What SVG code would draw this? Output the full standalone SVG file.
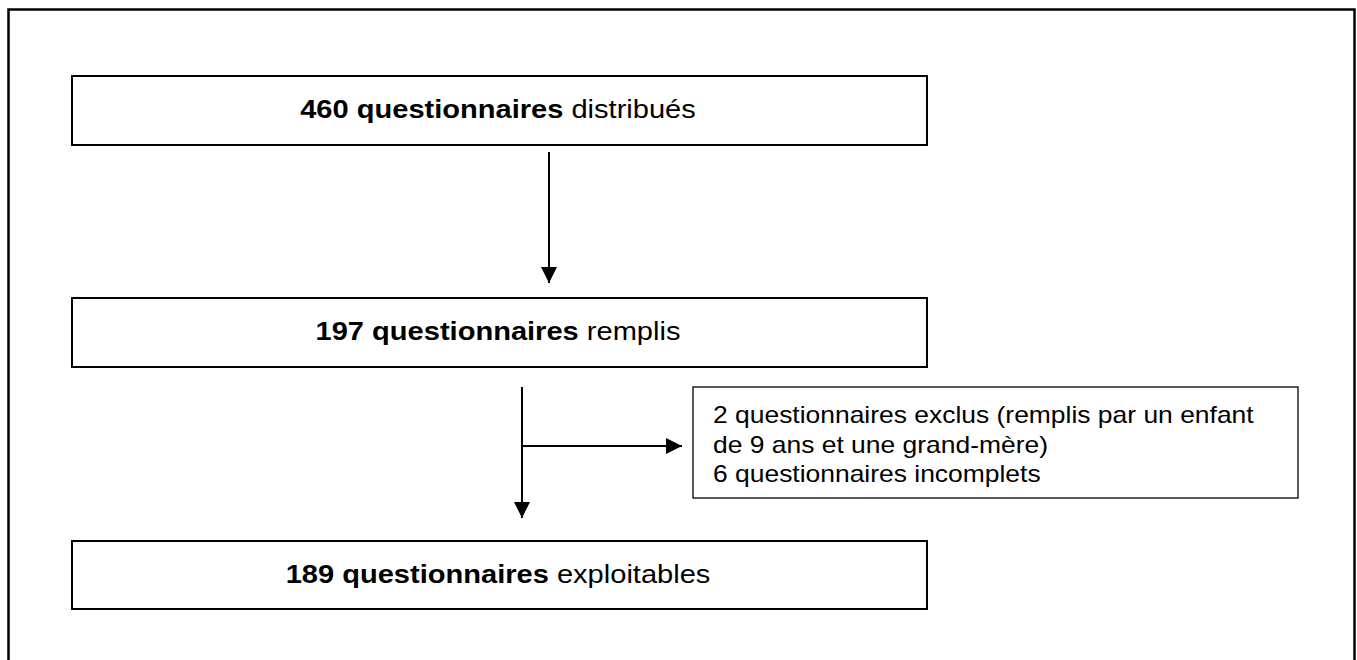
<svg xmlns="http://www.w3.org/2000/svg" width="1357" height="660" viewBox="0 0 1357 660">
<style>
.frame{fill:none;stroke:#000;stroke-width:2.5}
.box{fill:#fff;stroke:#000;stroke-width:2}
.thin{fill:#fff;stroke:#000;stroke-width:1.3}
.conn{stroke:#000;stroke-width:2;fill:none}
.t{font-family:"Liberation Sans",Arial,sans-serif;font-size:25.5px;fill:#000}
.s{font-family:"Liberation Sans",Arial,sans-serif;font-size:23px;fill:#000}
.b{font-weight:bold}
</style>
<defs>
<marker id="ah" viewBox="0 0 16 16" refX="16" refY="8" markerWidth="16" markerHeight="16" markerUnits="userSpaceOnUse" orient="auto">
<path d="M0,0 L16,8 L0,16 Z" fill="#000"/>
</marker>
</defs>
<rect width="1357" height="660" fill="#fff"/>
<path class="frame" d="M8.5,672 V9.5 H1354.5 V672"/>
<g id="n1">
<rect class="box" x="72" y="76" width="855" height="69"/>
<text class="t" transform="translate(498,118) scale(1.14,1)" text-anchor="middle"><tspan class="b">460 questionnaires</tspan> distribués</text>
</g>
<g id="n2">
<rect class="box" x="72" y="298" width="855" height="69"/>
<text class="t" transform="translate(498,340) scale(1.14,1)" text-anchor="middle"><tspan class="b">197 questionnaires</tspan> remplis</text>
</g>
<g id="n3">
<rect class="box" x="72" y="541" width="855" height="68"/>
<text class="t" transform="translate(498,583) scale(1.14,1)" text-anchor="middle"><tspan class="b">189 questionnaires</tspan> exploitables</text>
</g>
<g id="n4">
<rect class="thin" x="693" y="387" width="605" height="111"/>
<text class="s" transform="translate(713,423) scale(1.15,1)">2 questionnaires exclus (remplis par un enfant</text>
<text class="s" transform="translate(713,453) scale(1.15,1)">de 9 ans et une grand-mère)</text>
<text class="s" transform="translate(713,482) scale(1.15,1)">6 questionnaires incomplets</text>
</g>
<g id="connectors">
<line class="conn" x1="549" y1="152" x2="549" y2="283" marker-end="url(#ah)"/>
<line class="conn" x1="522" y1="387" x2="522" y2="518" marker-end="url(#ah)"/>
<line class="conn" x1="522" y1="446" x2="682" y2="446" marker-end="url(#ah)"/>
</g>
</svg>
